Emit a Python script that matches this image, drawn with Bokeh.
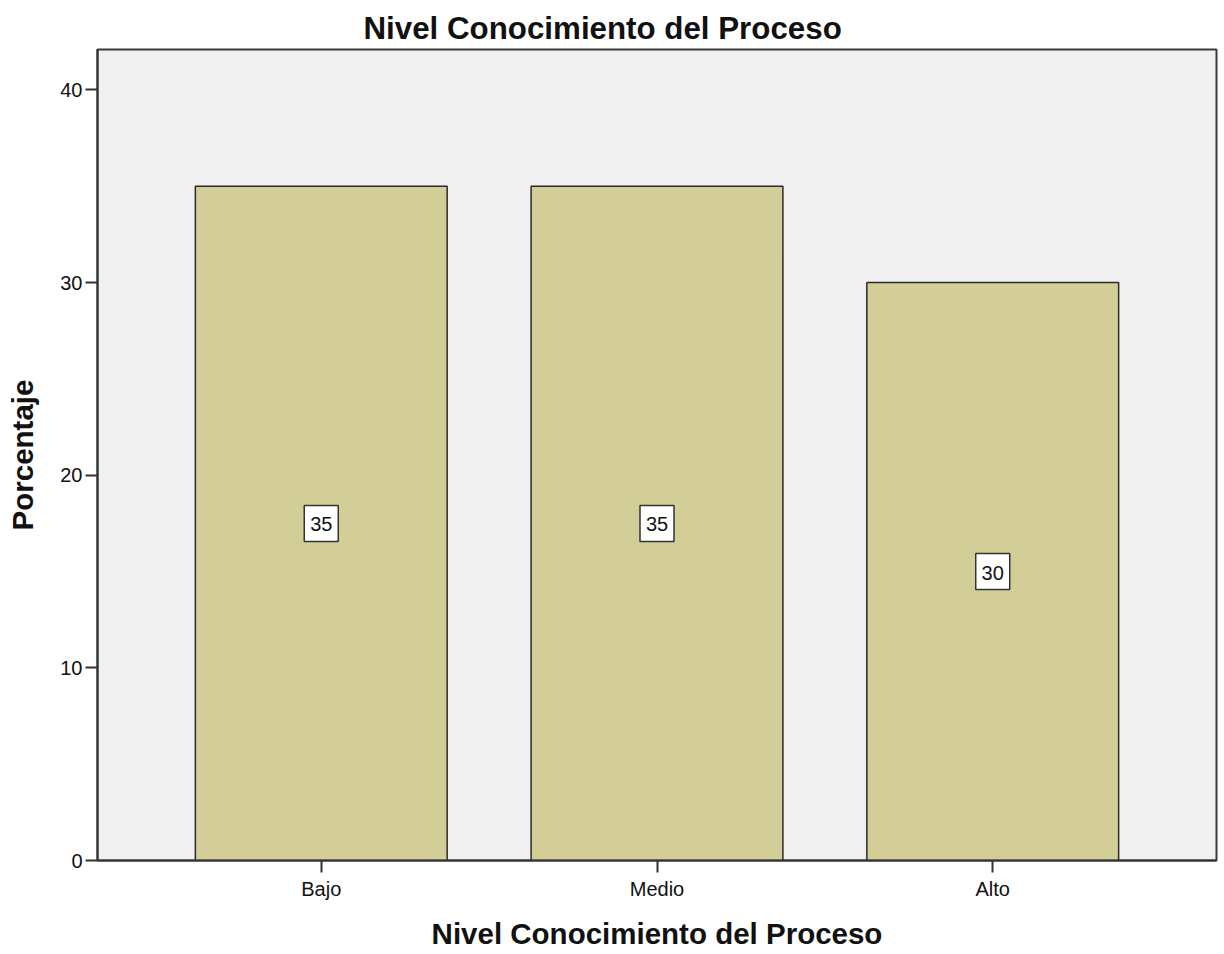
from bokeh.plotting import figure
from bokeh.models import FactorRange, Range1d, FixedTicker, ColumnDataSource
from bokeh.core.properties import value
from bokeh.embed import file_html
from bokeh.resources import INLINE

title_text = "Nivel Conocimiento del Proceso"
x_title = "Nivel Conocimiento del Proceso"
y_title = "Porcentaje"
categories = ["Bajo", "Medio", "Alto"]
percentages = [35, 35, 30]
y_ticks = [0, 10, 20, 30, 40]

FONT = "Liberation Sans"
W, H = 1224, 954
BL, BR, BT, BB = 97, 8, 49, 94

src = ColumnDataSource(dict(
    cat=categories,
    val=percentages,
    mid=[v / 2 for v in percentages],
    lab=[str(v) for v in percentages],
))

p = figure(width=W, height=H, output_backend="svg", toolbar_location=None,
           x_range=FactorRange(factors=categories, range_padding=0.111),
           y_range=Range1d(0, 42.1),
           min_border_left=BL, min_border_right=BR, min_border_top=BT,
           min_border_bottom=BB)
p.background_fill_color = "#F0F0F0"
p.border_fill_color = "white"
p.outline_line_color = "#3A3A3A"
p.outline_line_width = 2
p.xgrid.visible = False
p.ygrid.visible = False

p.title.text = title_text
p.title.align = "left"
p.title.offset = 266
p.title.standoff = 8
p.title.text_font = FONT
p.title.text_font_size = "31.3px"
p.title.text_font_style = "bold"
p.title.text_color = "#111111"

p.vbar(x="cat", top="val", bottom=0, width=0.75, source=src,
       fill_color="#D3CE97", line_color="#2A2A2A", line_width=1.5)

p.rect(x="cat", y="mid", width=34, height=36, width_units="screen",
       height_units="screen", source=src, fill_color="white",
       line_color="#333333", line_width=1.5)
p.text(x="cat", y="mid", text="lab", source=src, text_align="center",
       text_baseline="middle", text_font=value(FONT), text_font_size="20px",
       text_color="#111111", y_offset=1)

for ax in (p.xaxis[0], p.yaxis[0]):
    ax.axis_line_color = "#333333"
    ax.axis_line_width = 2
    ax.major_tick_line_color = "#333333"
    ax.major_tick_line_width = 2
    ax.major_tick_out = 12
    ax.major_tick_in = 0
    ax.minor_tick_line_color = None
    ax.major_label_text_font = FONT
    ax.major_label_text_font_size = "20px"
    ax.major_label_text_color = "#111111"
    ax.axis_label_text_font = FONT
    ax.axis_label_text_font_size = "29.5px"
    ax.axis_label_text_font_style = "bold"
    ax.axis_label_text_color = "#111111"

p.yaxis.ticker = FixedTicker(ticks=y_ticks)
p.yaxis.major_label_standoff = 3
p.yaxis.axis_label = y_title
p.yaxis.axis_label_standoff = 18
p.xaxis.major_label_standoff = 5
p.xaxis.axis_label = x_title
p.xaxis.axis_label_standoff = 14

open("out.html", "w").write(file_html(p, INLINE))
